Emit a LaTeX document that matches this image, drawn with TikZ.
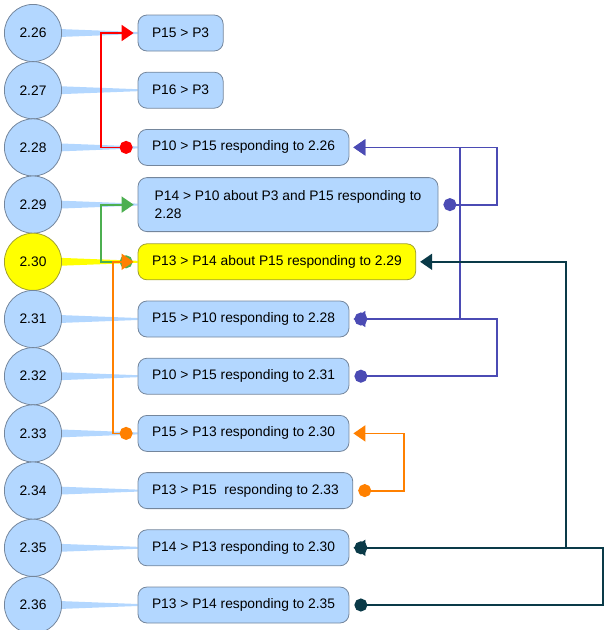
\documentclass[tikz,border=0pt]{standalone}
\usepackage{fontspec}
\setmainfont{Liberation Sans}
\usetikzlibrary{arrows.meta,positioning,backgrounds}
\definecolor{Pale}{HTML}{B3D7FF}
\definecolor{Slate}{HTML}{74869C}
\definecolor{Lemon}{HTML}{FFFF00}
\definecolor{Olive}{HTML}{A0A030}
\definecolor{Red}{HTML}{FF0000}
\definecolor{Green}{HTML}{4CAF50}
\definecolor{Orange}{HTML}{FF8000}
\definecolor{Indigo}{HTML}{4B4BB4}
\definecolor{Teal}{HTML}{0A3A48}

\begin{document}
\begin{tikzpicture}[x=1pt,y=-1pt,
 node distance=0pt and 76pt,
 turn/.style={circle,draw=Slate,fill=Pale,minimum size=57.2pt,inner sep=0pt,outer sep=0pt,
   line width=.8pt,font=\fontsize{13.8}{16}\selectfont},
 msg/.style={draw=Slate,fill=Pale,rounded corners=9pt,minimum height=36pt,inner xsep=14pt,
   line width=.8pt,align=left,font=\fontsize{13.8}{17.5}\selectfont},
 hot/.style={fill=Lemon,draw=Olive},
 link/.style={line width=1.8pt,{Circle[length=13pt]}-{Triangle[length=12pt,width=16pt]}}]
 \useasboundingbox (0,0) rectangle (604,630);
 \node[turn] (c26) at (33,33) {2.26};
 \node[turn,below=of c26] (c27) {2.27};
 \node[turn,below=of c27] (c28) {2.28};
 \node[turn,below=of c28] (c29) {2.29};
 \node[turn,hot,below=of c29] (c30) {2.30};
 \node[turn,below=of c30] (c31) {2.31};
 \node[turn,below=of c31] (c32) {2.32};
 \node[turn,below=of c32] (c33) {2.33};
 \node[turn,below=of c33] (c34) {2.34};
 \node[turn,below=of c34] (c35) {2.35};
 \node[turn,below=of c35] (c36) {2.36};
 \node[msg,right=of c26] (m26) {P15 > P3};
 \node[msg,right=of c27] (m27) {P16 > P3};
 \node[msg,right=of c28] (m28) {P10 > P15 responding to 2.26};
 \node[msg,right=of c29,minimum width=300pt,minimum height=54pt] (m29) {P14 > P10 about P3 and P15 responding to\\2.28};
 \node[msg,hot,right=of c30] (m30) {P13 > P14 about P15 responding to 2.29};
 \node[msg,right=of c31] (m31) {P15 > P10 responding to 2.28};
 \node[msg,right=of c32] (m32) {P10 > P15 responding to 2.31};
 \node[msg,right=of c33] (m33) {P15 > P13 responding to 2.30};
 \node[msg,right=of c34] (m34) {P13 > P15~ responding to 2.33};
 \node[msg,right=of c35] (m35) {P14 > P13 responding to 2.30};
 \node[msg,right=of c36] (m36) {P13 > P14 responding to 2.35};
 \begin{scope}[on background layer]
  \fill[Pale] ([yshift=5pt]c26.center) -- ([yshift=1pt]m26.west) -- ([yshift=-1pt]m26.west) -- ([yshift=-5pt]c26.center) -- cycle;
  \fill[Pale] ([yshift=5pt]c27.center) -- ([yshift=1pt]m27.west) -- ([yshift=-1pt]m27.west) -- ([yshift=-5pt]c27.center) -- cycle;
  \fill[Pale] ([yshift=5pt]c28.center) -- ([yshift=1pt]m28.west) -- ([yshift=-1pt]m28.west) -- ([yshift=-5pt]c28.center) -- cycle;
  \fill[Pale] ([yshift=5pt]c29.center) -- ([yshift=1pt]m29.west) -- ([yshift=-1pt]m29.west) -- ([yshift=-5pt]c29.center) -- cycle;
  \fill[Lemon] ([yshift=5pt]c30.center) -- ([yshift=1pt]m30.west) -- ([yshift=-1pt]m30.west) -- ([yshift=-5pt]c30.center) -- cycle;
  \fill[Pale] ([yshift=5pt]c31.center) -- ([yshift=1pt]m31.west) -- ([yshift=-1pt]m31.west) -- ([yshift=-5pt]c31.center) -- cycle;
  \fill[Pale] ([yshift=5pt]c32.center) -- ([yshift=1pt]m32.west) -- ([yshift=-1pt]m32.west) -- ([yshift=-5pt]c32.center) -- cycle;
  \fill[Pale] ([yshift=5pt]c33.center) -- ([yshift=1pt]m33.west) -- ([yshift=-1pt]m33.west) -- ([yshift=-5pt]c33.center) -- cycle;
  \fill[Pale] ([yshift=5pt]c34.center) -- ([yshift=1pt]m34.west) -- ([yshift=-1pt]m34.west) -- ([yshift=-5pt]c34.center) -- cycle;
  \fill[Pale] ([yshift=5pt]c35.center) -- ([yshift=1pt]m35.west) -- ([yshift=-1pt]m35.west) -- ([yshift=-5pt]c35.center) -- cycle;
  \fill[Pale] ([yshift=5pt]c36.center) -- ([yshift=1pt]m36.west) -- ([yshift=-1pt]m36.west) -- ([yshift=-5pt]c36.center) -- cycle;
 \end{scope}
 \coordinate (lane1) at (101,0);
 \coordinate (lane2) at (113,0);
 \coordinate (lane3) at (404,0);
 \coordinate (lane4) at (460,0);
 \coordinate (lane5) at (497,0);
 \coordinate (lane6) at (566,0);
 \coordinate (lane7) at (603,0);
 \draw[link,Red] ([xshift=-5pt]m28.west) -- (m28.west -| lane1) |- ([xshift=-4pt]m26.west);
 \draw[link,Green] ([xshift=-5pt]m30.west) -- (m30.west -| lane1) |- ([xshift=-4pt]m29.west);
 \draw[link,Orange] ([xshift=-5pt]m33.west) -- (m33.west -| lane2) |- ([xshift=-4pt]m30.west);
 \draw[link,Orange] ([xshift=5pt]m34.east) -- (m34.east -| lane3) |- ([xshift=4pt]m33.east);
 \draw[link,Indigo] ([xshift=5pt]m29.east) -- (m29.east -| lane5) |- ([xshift=4pt]m28.east);
 \draw[link,Indigo] ([xshift=5pt]m32.east) -- (m32.east -| lane5) |- ([xshift=4pt]m31.east);
 \draw[link,Indigo] ([xshift=5pt]m31.east) -- (m31.east -| lane4) |- ([xshift=4pt]m28.east);
 \draw[link,Teal] ([xshift=5pt]m35.east) -- (m35.east -| lane6) |- ([xshift=4pt]m30.east);
 \draw[link,Teal] ([xshift=5pt]m36.east) -- (m36.east -| lane7) |- ([xshift=4pt]m35.east);
\end{tikzpicture}
\end{document}
